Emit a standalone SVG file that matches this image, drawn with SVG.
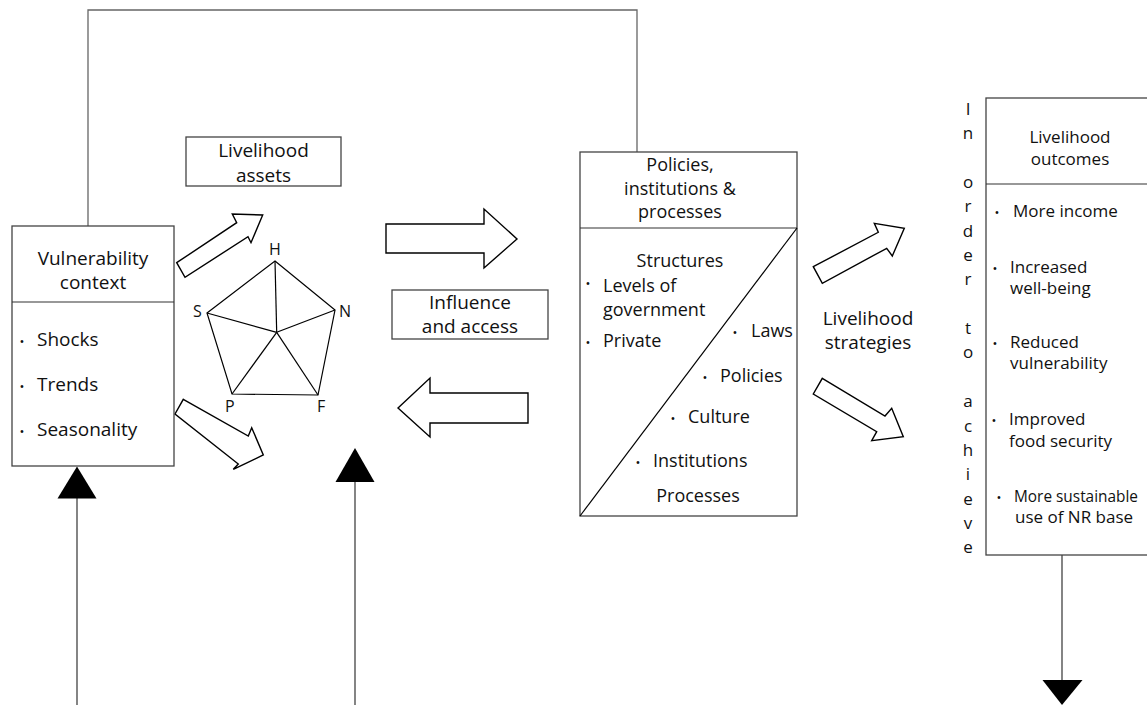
<svg xmlns="http://www.w3.org/2000/svg" width="1147" height="705" viewBox="0 0 1147 705">
<style>
  text { font-family: "Open Sans", "Liberation Sans", sans-serif; fill: #111; }
  .t19 { font-size: 19px; }
  .t18 { font-size: 18px; }
  .t17 { font-size: 17px; }
  .t16 { font-size: 16px; }
  .c { text-anchor: middle; }
  .b { font-size: 13px; text-anchor: middle; }
  .box { fill: #fff; stroke: #444; stroke-width: 1.3; }
  .ln { fill: none; stroke: #333; stroke-width: 1.2; }
  .loop { fill: none; stroke: #666; stroke-width: 1.3; }
  .blk { fill: #fff; stroke: #000; stroke-width: 1.4; stroke-linejoin: miter; }
  .head { fill: #000; stroke: none; }
  .pent { fill: none; stroke: #000; stroke-width: 1.2; }
</style>
<rect width="1147" height="705" fill="#fff"/>

<g id="connectors">
  <polyline class="loop" points="88,226 88,10 637,10 637,152"/>
  <line class="ln" x1="77" y1="705" x2="77" y2="497"/>
  <polygon class="head" points="77,466.5 57.5,498.5 96.5,498.5"/>
  <line class="ln" x1="355" y1="705" x2="355" y2="481"/>
  <polygon class="head" points="355,448 335.5,482 374.5,482"/>
  <line class="ln" x1="1062" y1="555" x2="1062" y2="681"/>
  <polygon class="head" points="1042.5,680 1082.5,680 1062,705"/>
  <polygon class="blk" points="176.7,262.7 236.7,222.7 232.3,214 262.7,215 251,242.7 248,236.7 185,277.3"/>
  <polygon class="blk" points="183.3,399.3 248.3,436 251.7,427.7 263.3,455 233.3,469.3 238.3,464 175,414"/>
  <polygon class="blk" points="386,224 484,224 484,209 517,239 484,268 484,253 386,253"/>
  <polygon class="blk" points="528,393 430,393 430,378 398,408 430,437 430,423 528,423"/>
  <polygon class="blk" points="813.3,266.7 878.3,232.3 874.3,223.3 904.3,228.3 892.3,256 886.7,248.3 822.3,283.3"/>
  <polygon class="blk" points="822.3,378.3 885,416 891.7,408.3 903.3,436.7 871.7,440.7 876.7,431.7 813.3,394"/>
</g>

<g id="vulnerability">
  <rect class="box" x="12" y="226" width="162" height="240"/>
  <line class="ln" x1="12" y1="302" x2="174" y2="302"/>
  <text class="t19 c" x="93" y="265">Vulnerability</text>
  <text class="t19 c" x="93" y="289">context</text>
  <text class="b" x="22" y="346">•</text><text class="t19" x="37" y="346">Shocks</text>
  <text class="b" x="22" y="391">•</text><text class="t19" x="37" y="391">Trends</text>
  <text class="b" x="22" y="436">•</text><text class="t19" x="37" y="436">Seasonality</text>
</g>

<g id="assets-label">
  <rect class="box" x="186" y="137" width="155" height="49"/>
  <text class="t19 c" x="263.5" y="157">Livelihood</text>
  <text class="t19 c" x="263.5" y="182">assets</text>
</g>

<g id="pentagon">
  <polygon class="pent" points="275,261 335,310 318,395 232,394 207,313"/>
  <line class="pent" x1="276.7" y1="332.3" x2="275" y2="261"/>
  <line class="pent" x1="276.7" y1="332.3" x2="335" y2="310"/>
  <line class="pent" x1="276.7" y1="332.3" x2="318" y2="395"/>
  <line class="pent" x1="276.7" y1="332.3" x2="232" y2="394"/>
  <line class="pent" x1="276.7" y1="332.3" x2="207" y2="313"/>
  <text class="t16 c" x="275" y="255">H</text>
  <text class="t16" x="339" y="317">N</text>
  <text class="t16" x="193" y="317">S</text>
  <text class="t16" x="225" y="412">P</text>
  <text class="t16" x="317" y="412">F</text>
</g>

<g id="influence">
  <rect class="box" x="392" y="290" width="156" height="49"/>
  <text class="t19 c" x="470" y="309">Influence</text>
  <text class="t19 c" x="470" y="333">and access</text>
</g>

<g id="policies">
  <rect class="box" x="580" y="152" width="217" height="364"/>
  <line class="ln" x1="580" y1="228" x2="797" y2="228"/>
  <line class="pent" x1="797" y1="228" x2="580" y2="516"/>
  <text class="t18 c" x="680" y="171">Policies,</text>
  <text class="t18 c" x="680" y="195">institutions &amp;</text>
  <text class="t18 c" x="680" y="218">processes</text>
  <text class="t18 c" x="680" y="267">Structures</text>
  <text class="b" x="588" y="288">•</text><text class="t18" x="603" y="292">Levels of</text>
  <text class="t18" x="603" y="316">government</text>
  <text class="b" x="588" y="347">•</text><text class="t18" x="603" y="347">Private</text>
  <text class="b" x="735" y="337">•</text><text class="t18" x="751" y="337">Laws</text>
  <text class="b" x="705" y="382">•</text><text class="t18" x="720" y="382">Policies</text>
  <text class="b" x="673" y="423">•</text><text class="t18" x="688" y="423">Culture</text>
  <text class="b" x="638" y="467">•</text><text class="t18" x="653" y="467">Institutions</text>
  <text class="t18 c" x="698" y="502">Processes</text>
</g>

<g id="strategies">
  <text class="t19 c" x="868" y="325">Livelihood</text>
  <text class="t19 c" x="868" y="349">strategies</text>
</g>

<g id="in-order-to-achieve">
  <text class="t17 c" x="968" y="114.5">I</text>
  <text class="t17 c" x="968" y="139">n</text>
  <text class="t17 c" x="968" y="188">o</text>
  <text class="t17 c" x="968" y="212">r</text>
  <text class="t17 c" x="968" y="237">d</text>
  <text class="t17 c" x="968" y="261">e</text>
  <text class="t17 c" x="968" y="285">r</text>
  <text class="t17 c" x="968" y="334">t</text>
  <text class="t17 c" x="968" y="358">o</text>
  <text class="t17 c" x="968" y="407">a</text>
  <text class="t17 c" x="968" y="432">c</text>
  <text class="t17 c" x="968" y="456">h</text>
  <text class="t17 c" x="968" y="480">i</text>
  <text class="t17 c" x="968" y="505">e</text>
  <text class="t17 c" x="968" y="529">v</text>
  <text class="t17 c" x="968" y="553">e</text>
</g>

<g id="outcomes">
  <rect class="box" x="986" y="98" width="200" height="457"/>
  <line class="ln" x1="986" y1="184" x2="1147" y2="184"/>
  <text class="t17 c" x="1070" y="143">Livelihood</text>
  <text class="t17 c" x="1070" y="165">outcomes</text>
  <text class="b" x="997" y="217">•</text><text class="t17" x="1013" y="217">More income</text>
  <text class="b" x="995" y="273">•</text><text class="t17" x="1010" y="273">Increased</text>
  <text class="t17" x="1010" y="294">well-being</text>
  <text class="b" x="995" y="348">•</text><text class="t17" x="1010" y="348">Reduced</text>
  <text class="t17" x="1010" y="369">vulnerability</text>
  <text class="b" x="994" y="425">•</text><text class="t17" x="1009" y="425">Improved</text>
  <text class="t17" x="1009" y="447">food security</text>
  <text class="b" x="999" y="502">•</text><text class="t17" x="1014" y="502" textLength="124" lengthAdjust="spacingAndGlyphs">More sustainable</text>
  <text class="t17" x="1015" y="523">use of NR base</text>
</g>
</svg>
